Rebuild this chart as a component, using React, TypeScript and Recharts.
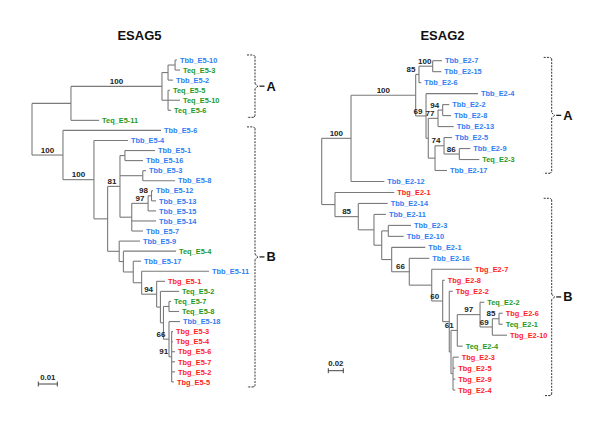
import React from "react";
import { ScatterChart, XAxis, YAxis, ReferenceLine, Scatter } from "recharts";

// ---------------- ESAG5 tree data ----------------
const esag5Leaves = ["Tbb_E5-10","Teq_E5-3","Tbb_E5-2","Teq_E5-5","Teq_E5-10","Teq_E5-6","Teq_E5-11","Tbb_E5-6","Tbb_E5-4","Tbb_E5-1","Tbb_E5-16","Tbb_E5-3","Tbb_E5-8","Tbb_E5-12","Tbb_E5-13","Tbb_E5-15","Tbb_E5-14","Tbb_E5-7","Tbb_E5-9","Teq_E5-4","Tbb_E5-17","Tbb_E5-11","Tbg_E5-1","Teq_E5-2","Teq_E5-7","Teq_E5-8","Tbb_E5-18","Tbg_E5-3","Tbg_E5-4","Tbg_E5-6","Tbg_E5-7","Tbg_E5-2","Tbg_E5-5"];
const esag5LeafDepth = [0.0763,0.0779,0.0742,0.0726,0.0779,0.0732,0.0353,0.0679,0.0505,0.0647,0.0584,0.0600,0.0753,0.0637,0.0653,0.0653,0.0653,0.0584,0.0568,0.0758,0.0574,0.0932,0.0700,0.0774,0.0732,0.0774,0.0779,0.0742,0.0742,0.0753,0.0753,0.0753,0.0747];
const esag5LeafParent = ["A1a","A1a","A1","A2","A2","A2","Ap","B","B1","n1_16","n1_16","n3_8","n3_8","n98","n98","n97","nY","nY","C","D","E","F","n94","G","n78","n78","n66","n91","n91","n91","n91","n91","n91"];
const esag5NodeIds = ["root","Ap","A","A1","A1a","A2","B","B1","B2","n81","n1_16","n3_8","nY","n97","n98","C","D","E","F","n94","G","H","n78","n66","n91"];
const esag5NodeParent = ["","root","Ap","A","A1","A","root","B","B1","B2","n81","n81","n81","nY","n97","B2","C","D","E","F","n94","G","H","H","n66"];
const esag5NodeDepth = [0,0.0205,0.0684,0.0716,0.0753,0.0716,0.0163,0.0326,0.0398,0.0463,0.0489,0.0583,0.0525,0.0611,0.0629,0.0459,0.0481,0.0533,0.0577,0.0656,0.0676,0.0692,0.0721,0.0721,0.0735];
const esag5NodeSupport = [0,0,100,0,0,0,100,100,0,81,0,0,0,97,98,0,0,0,0,94,0,0,0,66,91];
const esag5CladeNames = ["A","B"];
const esag5CladeTop = [-0.5,6.65];
const esag5CladeBottom = [5.7,32.5];
const esag5ScaleValue = 0.01;

// ---------------- ESAG2 tree data ----------------
const esag2Leaves = ["Tbb_E2-7","Tbb_E2-15","Tbb_E2-6","Tbb_E2-4","Tbb_E2-2","Tbb_E2-8","Tbb_E2-13","Tbb_E2-5","Tbb_E2-9","Teq_E2-3","Tbb_E2-17","Tbb_E2-12","Tbg_E2-1","Tbb_E2-14","Tbb_E2-11","Tbb_E2-3","Tbb_E2-10","Tbb_E2-1","Tbb_E2-16","Tbg_E2-7","Tbg_E2-8","Tbg_E2-2","Teq_E2-2","Tbg_E2-6","Teq_E2-1","Tbg_E2-10","Teq_E2-4","Tbg_E2-3","Tbg_E2-5","Tbg_E2-9","Tbg_E2-4"];
const esag2LeafDepth = [0.1604,0.1595,0.1328,0.2084,0.1701,0.1724,0.1760,0.1737,0.1981,0.2101,0.1671,0.0835,0.0968,0.0880,0.0857,0.1191,0.1093,0.1381,0.1435,0.2004,0.1640,0.1747,0.2168,0.2413,0.2413,0.2471,0.1880,0.1827,0.1781,0.1781,0.1781];
const esag2LeafParent = ["n100","n100","n85","n69","n94","n94","n77","n74","n86","n86","X","Ao","B","n85b","c1","n3_10","n3_10","c3","n66","c4","n60","c5","n97","n85c","n85c","n69b","n61","tbg","tbg","tbg","tbg"];
const esag2NodeIds = ["root","Ao","A","n85","n100","n69","sub","n77","n94","X","n74","n86","B","n85b","c1","c2","n3_10","c3","n66","c4","n60","c5","c6","n61","n97","n69b","n85c","tbg"];
const esag2NodeParent = ["","root","Ao","A","n85","A","n69","sub","n77","sub","X","n74","root","B","n85b","c1","c2","c2","c3","n66","c4","n60","c5","c6","n61","n97","n69b","c6"];
const esag2NodeDepth = [0,0.0391,0.1253,0.1297,0.1480,0.1391,0.1421,0.1551,0.1613,0.1511,0.1631,0.1835,0.0177,0.0488,0.0697,0.0800,0.0888,0.0933,0.1168,0.1467,0.1613,0.1701,0.1724,0.1808,0.2111,0.2275,0.2364,0.1751];
const esag2NodeSupport = [0,100,100,85,100,69,0,77,94,0,74,86,0,85,0,0,0,0,66,0,60,0,0,61,97,69,85,0];
const esag2CladeNames = ["A","B"];
const esag2CladeTop = [-0.3,12.53];
const esag2CladeBottom = [10.25,30.5];
const esag2ScaleValue = 0.02;

const FONT = "'Liberation Sans', Arial, Helvetica, sans-serif";
const LINE = "#7a7a7a";
const colorOf = (name: string) =>
  name.startsWith("Tbb") ? "#2f80f2" : name.startsWith("Teq") ? "#1f991f" : "#ff1e1e";

type PanelProps = {
  title: string;
  leaves: string[]; leafDepth: number[]; leafParent: string[];
  nodeIds: string[]; nodeParent: string[]; nodeDepth: number[]; nodeSupport: number[];
  cladeNames: string[]; cladeTop: number[]; cladeBottom: number[];
  scaleValue: number;
  rootPx: number; ppu: number; row0Px: number; rowStep: number;
  bracketPx: number; scaleX0Px: number; scaleYPx: number; titleX: number;
};

function TreePanel(p: PanelProps) {
  const W = 300, H = 424;
  const xDom = [-p.rootPx / p.ppu, (W - p.rootPx) / p.ppu];
  const yDom = [-p.row0Px / p.rowStep, (H - p.row0Px) / p.rowStep];
  const dx = (px: number) => px / p.ppu;
  const dy = (px: number) => px / p.rowStep;
  const pxToX = (px: number) => (px - p.rootPx) / p.ppu;
  const pxToRow = (py: number) => (py - p.row0Px) / p.rowStep;

  const depthOf: Record<string, number> = {};
  p.nodeIds.forEach((id, i) => (depthOf[id] = p.nodeDepth[i]));
  const yOf: Record<string, number> = {};
  const range: Record<string, [number, number]> = {};
  const nodeY = (id: string): number => {
    if (yOf[id] !== undefined) return yOf[id];
    const ys: number[] = [];
    p.leafParent.forEach((par, i) => { if (par === id) ys.push(i); });
    p.nodeIds.forEach((nid, i) => { if (p.nodeParent[i] === id) ys.push(nodeY(nid)); });
    const lo = Math.min(...ys), hi = Math.max(...ys);
    range[id] = [lo, hi];
    yOf[id] = (lo + hi) / 2;
    return yOf[id];
  };
  p.nodeIds.forEach((id) => nodeY(id));

  type Seg = { x1: number; y1: number; x2: number; y2: number; dash?: string; color?: string; w?: number };
  const segs: Seg[] = [];
  p.leaves.forEach((_, i) => {
    segs.push({ x1: depthOf[p.leafParent[i]], y1: i, x2: p.leafDepth[i], y2: i });
  });
  p.nodeIds.forEach((id, i) => {
    const par = p.nodeParent[i];
    if (par) segs.push({ x1: depthOf[par], y1: yOf[id], x2: p.nodeDepth[i], y2: yOf[id] });
    segs.push({ x1: p.nodeDepth[i], y1: range[id][0], x2: p.nodeDepth[i], y2: range[id][1] });
  });

  // brackets
  const bx = pxToX(p.bracketPx);
  const cladePts: any[] = [];
  p.cladeNames.forEach((name, i) => {
    const top = p.cladeTop[i], bot = p.cladeBottom[i];
    const mid = (top + bot) / 2;
    const d = "2 1.2";
    const c = "#333";
    const pts: [number, number][] = [
      [bx - dx(8), top], [bx - dx(1.5), top], [bx, top + dy(1.5)], [bx, mid - dy(2.5)],
      [bx + dx(3), mid], [bx, mid + dy(2.5)], [bx, bot - dy(1.5)], [bx - dx(1.5), bot], [bx - dx(8), bot],
    ];
    for (let k = 0; k < pts.length - 1; k++) {
      segs.push({ x1: pts[k][0], y1: pts[k][1], x2: pts[k + 1][0], y2: pts[k + 1][1], dash: d, color: c, w: 1 });
    }
    segs.push({ x1: bx + dx(4.5), y1: mid, x2: bx + dx(9.5), y2: mid, color: "#111", w: 1.2 });
    cladePts.push({ x: bx + dx(11.5), y: mid, name });
  });

  // scale bar
  const sx0 = pxToX(p.scaleX0Px);
  const sy = pxToRow(p.scaleYPx);
  segs.push({ x1: sx0, y1: sy, x2: sx0 + p.scaleValue, y2: sy, color: "#444", w: 1 });
  segs.push({ x1: sx0, y1: sy - dy(2.5), x2: sx0, y2: sy + dy(2.5), color: "#444", w: 1 });
  segs.push({ x1: sx0 + p.scaleValue, y1: sy - dy(2.5), x2: sx0 + p.scaleValue, y2: sy + dy(2.5), color: "#444", w: 1 });
  const scalePts = [{ x: sx0 + p.scaleValue / 2, y: sy, name: String(p.scaleValue) }];

  const leafPts = p.leaves.map((name, i) => ({ x: p.leafDepth[i], y: i, name }));
  const supportPts: any[] = [];
  p.nodeIds.forEach((id, i) => {
    const s = p.nodeSupport[i];
    if (!s) return;
    const par = p.nodeParent[i];
    const mid = (depthOf[par] + p.nodeDepth[i]) / 2;
    const x = Math.min(mid, p.nodeDepth[i] - dx(8));
    supportPts.push({ x, y: yOf[id], name: String(s) });
  });

  const LeafLabel = (props: any) => (
    <text x={props.cx + 3} y={props.cy + 2.7} fontSize={7.4} fontWeight="bold" fontFamily={FONT} fill={colorOf(props.payload.name)}>
      {props.payload.name}
    </text>
  );
  const SupportLabel = (props: any) => (
    <text x={props.cx} y={props.cy - 2.4} fontSize={8} fontWeight="bold" fontFamily={FONT} fill="#222" textAnchor="middle">
      {props.payload.name}
    </text>
  );
  const CladeLabel = (props: any) => (
    <text x={props.cx} y={props.cy + 4.5} fontSize={12.8} fontWeight="bold" fontFamily={FONT} fill="#111">
      {props.payload.name}
    </text>
  );
  const ScaleLabel = (props: any) => (
    <text x={props.cx} y={props.cy - 4.5} fontSize={7.8} fontWeight="bold" fontFamily={FONT} fill="#222" textAnchor="middle">
      {props.payload.name}
    </text>
  );

  return (
    <div style={{ position: "relative", width: W, height: H }}>
      <div style={{ position: "absolute", left: p.titleX - 60, top: 29, width: 120, textAlign: "center", fontFamily: FONT, fontWeight: "bold", fontSize: 13, lineHeight: "13px", color: "#111" }}>
        {p.title}
      </div>
      <ScatterChart width={W} height={H} margin={{ top: 0, right: 0, bottom: 0, left: 0 }}>
        <XAxis type="number" dataKey="x" domain={xDom} hide allowDataOverflow />
        <YAxis type="number" dataKey="y" domain={yDom} hide reversed allowDataOverflow />
        {segs.filter((s) => s.x1 !== s.x2 || s.y1 !== s.y2).map((s, i) => (
          <ReferenceLine
            key={i}
            segment={[{ x: s.x1, y: s.y1 }, { x: s.x2, y: s.y2 }]}
            stroke={s.color || LINE}
            strokeWidth={s.w || 1.1}
            strokeDasharray={s.dash}
            ifOverflow="visible"
          />
        ))}
        <Scatter data={leafPts} isAnimationActive={false} shape={LeafLabel} />
        <Scatter data={supportPts} isAnimationActive={false} shape={SupportLabel} />
        <Scatter data={cladePts} isAnimationActive={false} shape={CladeLabel} />
        <Scatter data={scalePts} isAnimationActive={false} shape={ScaleLabel} />
      </ScatterChart>
    </div>
  );
}

export default function App() {
  return (
    <div style={{ position: "absolute", left: 0, top: 0, width: 600, height: 424, background: "#fff", display: "flex" }}>
      <TreePanel
        title="ESAG5"
        leaves={esag5Leaves} leafDepth={esag5LeafDepth} leafParent={esag5LeafParent}
        nodeIds={esag5NodeIds} nodeParent={esag5NodeParent} nodeDepth={esag5NodeDepth} nodeSupport={esag5NodeSupport}
        cladeNames={esag5CladeNames} cladeTop={esag5CladeTop} cladeBottom={esag5CladeBottom}
        scaleValue={esag5ScaleValue}
        rootPx={32} ppu={1900} row0Px={60} rowStep={10.06}
        bracketPx={255} scaleX0Px={38.3} scaleYPx={384} titleX={139.5}
      />
      <TreePanel
        title="ESAG2"
        leaves={esag2Leaves} leafDepth={esag2LeafDepth} leafParent={esag2LeafParent}
        nodeIds={esag2NodeIds} nodeParent={esag2NodeParent} nodeDepth={esag2NodeDepth} nodeSupport={esag2NodeSupport}
        cladeNames={esag2CladeNames} cladeTop={esag2CladeTop} cladeBottom={esag2CladeBottom}
        scaleValue={esag2ScaleValue}
        rootPx={21.7} ppu={750} row0Px={60.7} rowStep={10.98}
        bracketPx={251.7} scaleX0Px={28.3} scaleYPx={370.7} titleX={142.5}
      />
    </div>
  );
}
